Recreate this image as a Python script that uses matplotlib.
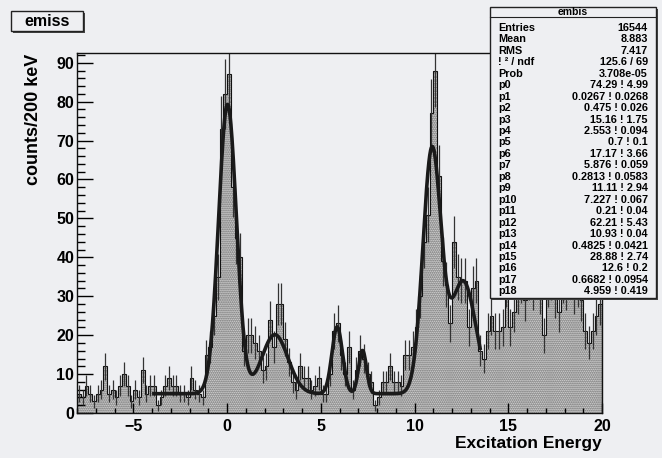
import numpy as np
import matplotlib
matplotlib.use('Agg')
import matplotlib.pyplot as plt
from matplotlib.patches import Rectangle
from matplotlib.ticker import MultipleLocator

W, H = 662, 458
BG = '#eeeff2'
FONT = 'Liberation Sans'

# histogram: 200 keV bins starting at -8 MeV
bin_lo = -8.0
bin_width = 0.2
counts = [5, 4, 7, 5, 3, 5, 6, 12, 5, 6,
          4, 7, 10, 7, 3, 6, 4, 11, 5, 7,
          7, 2, 4, 7, 9, 7, 7, 5, 5, 4,
          9, 6, 5, 4, 15, 17, 25, 35, 73, 82,
          87, 58, 45, 40, 16, 20, 20, 18, 16, 11,
          12, 24, 17, 28, 28, 19, 13, 8, 6, 12,
          9, 9, 6, 7, 9, 5, 5, 10, 21, 23,
          15, 10, 17, 6, 11, 16, 14, 10, 8, 2,
          4, 8, 8, 12, 8, 8, 7, 15, 15, 17,
          22, 30, 44, 51, 77, 88, 61, 39, 33, 23,
          44, 35, 34, 34, 22, 32, 34, 16, 14, 21,
          25, 21, 21, 22, 33, 22, 26, 31, 34, 29,
          35, 32, 36, 31, 20, 33, 35, 30, 26, 34,
          32, 37, 31, 33, 29, 21, 18, 21, 25, 28]

# fit: six gaussians (amp, mean, sigma) + constant
fit_range = (-3.9, 13.5)
fit_params = [74.29, 0.0267, 0.475, 15.16, 2.553, 0.7, 17.17, 5.876, 0.2813,
              11.11, 7.227, 0.21, 62.21, 10.93, 0.4825, 28.88, 12.6, 0.6682, 4.959]
fit_errors = ['4.99', '0.0268', '0.026', '1.75', '0.094', '0.1', '3.66', '0.059', '0.0583',
              '2.94', '0.067', '0.04', '5.43', '0.04', '0.0421', '2.74', '0.2', '0.0954', '0.419']
fit_values = ['74.29', '0.0267', '0.475', '15.16', '2.553', '0.7', '17.17', '5.876', '0.2813',
              '11.11', '7.227', '0.21', '62.21', '10.93', '0.4825', '28.88', '12.6', '0.6682', '4.959']

stat_names = ['Entries', 'Mean', 'RMS', '! \u00b2 / ndf', 'Prob']
stat_values = ['16544', '8.883', '7.417', '125.6 / 69', '3.708e-05']


def fx(px):
    return px / W


def fy(py):
    return 1 - py / H


fig = plt.figure(figsize=(W / 100, H / 100), dpi=100, facecolor=BG)
ax = fig.add_axes([fx(77), fy(413), fx(602) - fx(77), fy(53) - fy(413)], facecolor=BG)

counts = np.array(counts, dtype=float)
edges = bin_lo + bin_width * np.arange(len(counts) + 1)
centers = 0.5 * (edges[:-1] + edges[1:])

ax.stairs(counts, edges, fill=True, facecolor='#ececec', edgecolor='#555555',
          hatch='........', linewidth=0)
ax.stairs(counts, edges, color='#111111', linewidth=0.8)
err = np.sqrt(counts)
ax.vlines(centers, counts - err, counts + err, color='#333333', linewidth=0.9)

p = fit_params
xf = np.linspace(fit_range[0], fit_range[1], 1200)
yf = np.full_like(xf, p[18])
for k in range(6):
    a, m, s = p[3 * k], p[3 * k + 1], p[3 * k + 2]
    yf += a * np.exp(-0.5 * ((xf - m) / s) ** 2)
ax.plot(xf, yf, color='#1a1a1a', linewidth=2.6)

ax.set_xlim(-8, 20)
ax.set_ylim(0, 92.5)
ax.xaxis.set_major_locator(MultipleLocator(5))
ax.xaxis.set_minor_locator(MultipleLocator(1))
ax.yaxis.set_major_locator(MultipleLocator(10))
ax.yaxis.set_minor_locator(MultipleLocator(2))
ax.tick_params(axis='y', which='major', direction='in', length=11.5, width=1, pad=2)
ax.tick_params(axis='y', which='minor', direction='in', length=5.8, width=1)
ax.tick_params(axis='x', which='major', direction='in', length=7, width=1, pad=4)
ax.tick_params(axis='x', which='minor', direction='in', length=3.6, width=1)
for lab in ax.get_xticklabels() + ax.get_yticklabels():
    lab.set_fontfamily(FONT)
    lab.set_fontweight('bold')
    lab.set_fontsize(11.5)
for sp in ax.spines.values():
    sp.set_linewidth(1)
    sp.set_color('#111111')

fig.text(fx(602), fy(448), 'Excitation Energy', ha='right', va='baseline',
         family=FONT, weight='bold', fontsize=12.5)
fig.text(fx(34), fy(54), 'counts/200 keV', ha='center', va='top', rotation=90,
         family=FONT, weight='bold', fontsize=13)

# title box
fig.patches.append(Rectangle((fx(13), fy(33)), fx(72), fy(0) - fy(20),
                             transform=fig.transFigure, facecolor='#444444', edgecolor='none'))
fig.patches.append(Rectangle((fx(11), fy(31)), fx(72), fy(0) - fy(20),
                             transform=fig.transFigure, facecolor=BG, edgecolor='#222222', linewidth=1))
fig.text(fx(47), fy(21), 'emiss', ha='center', va='center', family=FONT, weight='bold', fontsize=11.5)

# stats box
bx0, bx1, by0, by1 = 490, 656, 7, 298
fig.patches.append(Rectangle((fx(bx0 + 2), fy(by1 + 2)), fx(bx1 - bx0), fy(0) - fy(by1 - by0),
                             transform=fig.transFigure, facecolor='#444444', edgecolor='none'))
fig.patches.append(Rectangle((fx(bx0), fy(by1)), fx(bx1 - bx0), fy(0) - fy(by1 - by0),
                             transform=fig.transFigure, facecolor=BG, edgecolor='#222222', linewidth=1))
fig.lines.append(plt.Line2D([fx(bx0), fx(bx1)], [fy(17), fy(17)], transform=fig.transFigure,
                            color='#222222', linewidth=0.8))
fig.text(fx((bx0 + bx1) / 2), fy(12), 'embis', ha='center', va='center', family=FONT,
         weight='bold', fontsize=7.5)

names = stat_names + ['p%d' % i for i in range(19)]
values = stat_values + ['%s ! %s' % (v, e) for v, e in zip(fit_values, fit_errors)]
for i, (n, v) in enumerate(zip(names, values)):
    yy = 28 + i * 11.45
    fig.text(fx(498), fy(yy), n, ha='left', va='center', family=FONT, weight='bold', fontsize=7.8)
    fig.text(fx(648), fy(yy), v, ha='right', va='center', family=FONT, weight='bold', fontsize=7.8)

fig.savefig('out.png', dpi=100, facecolor=BG)
